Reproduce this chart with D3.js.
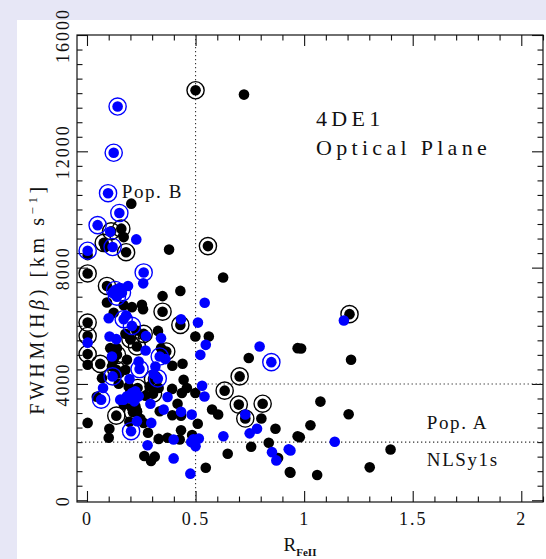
<!DOCTYPE html>
<html><head><meta charset="utf-8">
<script src="https://cdn.jsdelivr.net/npm/d3@7"></script>
<style>
html,body{margin:0;padding:0;background:#fff;}
svg{display:block;}
text{font-family:"Liberation Serif","DejaVu Serif",serif;fill:#111;}
</style></head><body>
<script>
// ---- data ----
const xTicks = [0, 0.5, 1, 1.5, 2];
const xTickLabels = ["0", "0.5", "1", "1.5", "2"];
const yTicks = [0, 4000, 8000, 12000, 16000];
const yTickLabels = ["0", "4000", "8000", "12000", "16000"];

// black filled circles (no ring)
const blackDots = [
 [0.723,13950],[0.204,10200],[0.169,9050],[0.378,8620],[0.627,7660],[0.003,8430],[0.084,8710],
 [0.43,7200],[0.348,7020],[0.092,6800],[0.169,6710],[0.207,6640],[0.253,6720],[0.258,6570],[0.123,6450],
 [0.003,4660],[0.069,4200],[0.003,2660],[0.103,2460],[0.10,2150],[0.261,2660],[0.281,2320],[0.264,1520],
 [0.295,1350],[0.312,1500],[0.33,2110],[0.371,2150],[0.427,2090],[0.433,2410],[0.484,2240],[0.547,1120],
 [0.51,2630],[0.648,1600],[0.756,1840],[0.837,1980],[0.88,1450],[0.868,2460],[0.934,970],[0.97,2200],
 [0.803,2810],[0.745,4890],[0.97,5230],[0.499,5630],[0.561,5630],[0.499,3690],[0.576,3120],[0.604,2950],
 [0.445,4145],[0.46,3860],[0.437,3690],[0.417,3320],[0.433,2910],[0.392,3830],[0.393,4625],[0.44,4694],
 [0.327,5824],[0.335,3060],[0.107,5230],[0.138,5230],[0.123,4830],[0.115,4600],[0.15,4375],[0.184,4830],
 [0.177,4490],[0.192,3916],[0.2,3745],[0.146,4008],[0.169,3289],[0.207,3176],[0.223,3231],[0.23,3060],
 [0.269,3597],[0.288,3916],[0.33,3861],[0.341,5231],[0.2,5539],[0.227,5836],[0.177,5722],[0.195,2697],
 [0.246,2800],[0.393,2923],[0.045,3560],
 [0.986,5218],[1.216,4831],[1.075,3392],[1.205,2957],[1.029,2580],[0.98,2169],[1.398,1747],[1.302,1131],
 [1.06,867],[0.937,949]
];
// black filled circles with ring
const blackRinged = [
 [0.5,14100],[0.111,9250],[0.158,9340],[0.077,8850],[0.18,8530],[0.557,8740],[0.003,7800],[0.092,7370],
 [0.348,6485],[0.43,6030],[0.003,6110],[0.003,5650],[0.003,5030],[0.061,4690],[0.135,2910],[0.212,3025],
 [0.634,3770],[0.699,3290],[0.729,2810],[0.809,3320],[0.703,4260],[1.209,6400],[0.365,5115],[0.304,3666],
 [0.304,4170],[0.23,5290],[0.2,5540],[0.261,5721],[0.138,5000],[0.135,4490],[0.233,3861]
];
// blue filled circles (no ring)
const blueDots = [
 [0.227,8970],[0.259,7460],[0.189,7370],[0.15,7300],[0.12,7150],[0.542,6790],[0.1,6260],[0.18,6350],
 [0.433,6225],[0.511,6110],[0.003,5420],[0.074,3860],[0.23,2720],[0.279,1890],[0.296,2660],[0.399,2090],
 [0.399,1440],[0.48,2000],[0.49,2100],[0.50,1860],[0.515,2120],[0.476,915],[0.628,2200],[0.749,2300],
 [0.783,2460],[0.852,1655],[0.872,1370],[0.929,1750],[0.729,2950],[0.795,5290],[0.547,5345],[0.522,5000],
 [0.53,3940],[0.541,3570],[0.371,3550],[0.341,5575],[0.315,4600],[0.272,5650],[0.27,5150],[0.104,5630],
 [0.135,5540],[0.115,4944],[0.196,4170],[0.169,3460],[0.184,3573],[0.2,3516],[0.207,3690],[0.223,3745],
 [0.238,3573],[0.153,3460],[0.218,3402],[0.482,2946],[0.433,3040],[0.361,4855],[0.307,4341],[0.292,3320],
 [0.353,3118],[1.183,6180],[1.141,2010],[0.937,1713],[0.238,4773],[0.107,9230]
];
// blue filled circles with ring
const blueRinged = [
 [0.141,13540],[0.123,11950],[0.097,10560],[0.149,9880],[0.049,9460],[0.118,8710],[0.003,8580],[0.261,7835],
 [0.13,7230],[0.161,7140],[0.138,7000],[0.169,6225],[0.207,5996],[0.065,3460],[0.203,2375],[0.849,4750],
 [0.335,4944],[0.326,4190],[0.242,4512],[0.118,4260]
];
const annotations = [
 {text:"Pop. B", x:0.16, y:10380},
 {text:"Pop. A", x:1.565, y:2440},
 {text:"NLSy1s", x:1.565, y:1170}
];

// ---- layout ----
const W = 546, H = 559;
const svg = d3.select("body").append("svg").attr("width", W).attr("height", H);
svg.append("rect").attr("width", W).attr("height", H).attr("fill", "#e7e7f6");
svg.append("rect").attr("x", 17).attr("y", 20).attr("width", W-17).attr("height", H-20).attr("fill", "#fff");

const L = 77, R = 543, T = 35, B = 502;
const x = d3.scaleLinear().domain([-0.046, 2.1]).range([L, R]);
const y = d3.scaleLinear().domain([-60, 16000]).range([B, T]);

const xMinor = d3.range(0, 2.11, 0.1).map(v => +v.toFixed(2)).filter(v => Math.abs(v*2 - Math.round(v*2)) > 1e-6);
const yMinor = d3.range(500, 16000, 500).filter(v => v % 4000 !== 0);

function styleAxis(g){
  g.select(".domain").remove();
  g.selectAll(".tick line").attr("stroke", "#111").attr("stroke-width", 1.1);
}
// bottom
svg.append("g").attr("transform", `translate(0,${B})`)
  .call(d3.axisBottom(x).tickValues(xTicks).tickSize(-11).tickPadding(10).tickFormat((d,i)=>xTickLabels[i]))
  .call(styleAxis)
  .call(g => g.selectAll("text").attr("font-size", 18).attr("font-family", "Liberation Serif").attr("letter-spacing", "2px").attr("fill", "#111"));
svg.append("g").attr("transform", `translate(0,${B})`)
  .call(d3.axisBottom(x).tickValues(xMinor).tickSize(-5.5).tickFormat("")).call(styleAxis);
// top
svg.append("g").attr("transform", `translate(0,${T})`)
  .call(d3.axisTop(x).tickValues(xTicks).tickSize(-11).tickFormat("")).call(styleAxis);
svg.append("g").attr("transform", `translate(0,${T})`)
  .call(d3.axisTop(x).tickValues(xMinor).tickSize(-5.5).tickFormat("")).call(styleAxis);
// left
svg.append("g").attr("transform", `translate(${L},0)`)
  .call(d3.axisLeft(y).tickValues(yTicks).tickSize(-11).tickFormat((d,i)=>yTickLabels[i]))
  .call(styleAxis)
  .call(g => g.selectAll("text")
     .attr("x", null).attr("dy", null).attr("y", null)
     .attr("text-anchor", "middle")
     .attr("transform", "translate(-8,0) rotate(-90)")
     .attr("font-size", 18).attr("font-family", "Liberation Serif").attr("letter-spacing", "2px").attr("fill", "#111"));
svg.append("g").attr("transform", `translate(${L},0)`)
  .call(d3.axisLeft(y).tickValues(yMinor).tickSize(-5.5).tickFormat("")).call(styleAxis);
// right
svg.append("g").attr("transform", `translate(${R},0)`)
  .call(d3.axisRight(y).tickValues(yTicks).tickSize(-11).tickFormat("")).call(styleAxis);
svg.append("g").attr("transform", `translate(${R},0)`)
  .call(d3.axisRight(y).tickValues(yMinor).tickSize(-5.5).tickFormat("")).call(styleAxis);

// frame
svg.append("rect").attr("x", L).attr("y", T).attr("width", R-L).attr("height", B-T)
  .attr("fill", "none").attr("stroke", "#111").attr("stroke-width", 1.2);

// dotted reference lines
const dots = "1.3,2.7";
svg.append("line").attr("x1", x(0.5)).attr("x2", x(0.5)).attr("y1", T).attr("y2", B)
  .attr("stroke", "#333").attr("stroke-width", 1.1).attr("stroke-dasharray", dots);
svg.append("line").attr("x1", x(0.5)).attr("x2", R).attr("y1", y(4000)).attr("y2", y(4000))
  .attr("stroke", "#333").attr("stroke-width", 1.1).attr("stroke-dasharray", dots);
svg.append("line").attr("x1", L).attr("x2", R).attr("y1", y(2000)).attr("y2", y(2000))
  .attr("stroke", "#333").attr("stroke-width", 1.1).attr("stroke-dasharray", dots);

// points
const rDot = 5.3, rRing = 8.6;
const plot = svg.append("g");
function drawDots(data, color){
  plot.append("g").selectAll("circle").data(data).join("circle")
    .attr("cx", d => x(d[0])).attr("cy", d => y(d[1])).attr("r", rDot).attr("fill", color);
}
function drawRings(data, color){
  plot.append("g").selectAll("circle").data(data).join("circle")
    .attr("cx", d => x(d[0])).attr("cy", d => y(d[1])).attr("r", rRing)
    .attr("fill", "none").attr("stroke", color).attr("stroke-width", 1.4);
  drawDots(data, color);
}
drawDots(blackDots, "#000");
drawRings(blackRinged, "#000");
drawDots(blueDots, "#0000ff");
drawRings(blueRinged, "#0000ff");

// annotations
svg.append("g").selectAll("text").data(annotations).join("text")
  .attr("x", d => x(d.x)).attr("y", d => y(d.y))
  .attr("font-size", 19).attr("letter-spacing", "1.6px").text(d => d.text);

svg.append("text").attr("x", 316).attr("y", 126).attr("font-size", 22).attr("letter-spacing", "4.3px").text("4DE1");
svg.append("text").attr("x", 316).attr("y", 155).attr("font-size", 22).attr("letter-spacing", "4.3px").text("Optical Plane");

// x axis label
const xl = svg.append("text").attr("x", 300).attr("y", 551).attr("text-anchor", "middle").attr("font-size", 19);
xl.append("tspan").text("R");
xl.append("tspan").attr("dy", 5).attr("font-size", 11).attr("font-weight", "bold").text("FeII");

// y axis label
const yl = svg.append("text").attr("transform", "translate(44,299) rotate(-90)")
  .attr("text-anchor", "middle").attr("font-size", 20).attr("letter-spacing", "3.6px");
yl.append("tspan").text("FWHM(H");
yl.append("tspan").attr("font-style", "italic").text("β");
yl.append("tspan").text(") [km s");
yl.append("tspan").attr("dy", -7).attr("font-size", 13).text("−1");
yl.append("tspan").attr("dy", 7).text("]");
</script>
</body></html>
